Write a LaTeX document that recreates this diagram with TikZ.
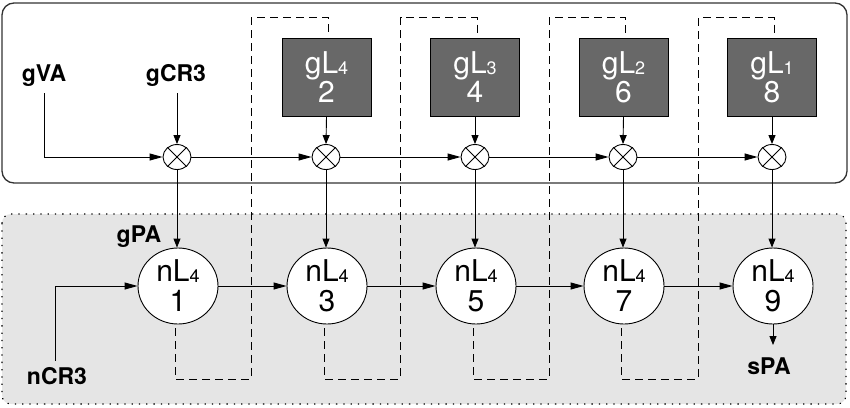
\documentclass[tikz,border=0pt]{standalone}
\usepackage{fontspec}
\setmainfont{TeX Gyre Heros}
\usetikzlibrary{arrows.meta,shapes.geometric,calc}
\newcommand\sbs[1]{\raisebox{-1pt}{\fontsize{18}{18}\selectfont #1}}
\definecolor{boxgray}{RGB}{104,104,104}
\definecolor{panelgray}{RGB}{229,229,229}
\definecolor{framegray}{RGB}{50,50,50}
\tikzset{
 lbl/.style={font=\fontsize{23}{25}\selectfont\bfseries, inner sep=0pt, anchor=base},
 nlnode/.style={ellipse, draw, fill=white, line width=0.9pt, minimum width=80pt, minimum height=76pt, inner sep=-16pt, align=center, font=\fontsize{30}{30}\selectfont},
 glbox/.style={rectangle, draw=black, fill=boxgray, line width=0.9pt, minimum width=89pt, minimum height=78pt, inner sep=0pt, align=center, text=white, font=\fontsize{30}{26}\selectfont},
 mult/.style={ellipse, draw, fill=white, line width=0.9pt, minimum width=28pt, minimum height=25pt, inner sep=0pt},
 conn/.style={line width=0.9pt},
 harrow/.style={conn, -{Triangle[length=13pt,width=7pt]}},
 varrow/.style={conn, -{Triangle[length=9pt,width=7pt]}},
 loopline/.style={line width=1pt, dash pattern=on 8pt off 5pt},
 panel/.style={fill=panelgray, draw=black, line width=1.1pt, dash pattern=on 1.3pt off 6pt, rounded corners=9pt},
 frame/.style={draw=framegray, line width=1.3pt, rounded corners=12pt},
}
\begin{document}
\begin{tikzpicture}[x=1pt,y=-1pt]
\useasboundingbox (0,0) rectangle (850,407);
% frames
\draw[panel] (2,214) rectangle (846,404);
\draw[frame] (2,3) rectangle (847,183);
% labels
\node[lbl] (gva) at (44,81) {gVA};
\node[lbl] (gcr) at (176,81) {gCR3};
\node[lbl] (gpa) at (139,242) {gPA};
\node[lbl] (ncr) at (57,384) {nCR3};
\node[lbl] (spa) at (769,374) {sPA};
% gL boxes
\node[glbox] (g2) at (326.5,77) {gL\sbs{4}\\2};
\node[glbox] (g4) at (475,77) {gL\sbs{3}\\4};
\node[glbox] (g6) at (623.5,77) {gL\sbs{2}\\6};
\node[glbox] (g8) at (772,77) {gL\sbs{1}\\8};
% multipliers
\node[mult] (m1) at (177,157) {};
\node[mult] (m2) at (326,157) {};
\node[mult] (m3) at (475,157) {};
\node[mult] (m4) at (623,157) {};
\node[mult] (m5) at (772,157) {};
\foreach \m in {m1,m2,m3,m4,m5}
  \draw[conn] (\m.45) -- (\m.225) (\m.135) -- (\m.-45);
% nL circles
\node[nlnode] (n1) at (178,286) {nL\sbs{4}\\1};
\node[nlnode] (n3) at (327,286) {nL\sbs{4}\\3};
\node[nlnode] (n5) at (476,286) {nL\sbs{4}\\5};
\node[nlnode] (n7) at (624,286) {nL\sbs{4}\\7};
\node[nlnode] (n9) at (773,286) {nL\sbs{4}\\9};
% dashed loops
\draw[loopline] ($(n1.south)+(-3,4)$) |- (251,379) |- ($(g2.north)+(2,-20)$) -- ($(g2.north)+(2,-3)$);
\draw[loopline] ($(n3.south)+(-3,4)$) |- (400.5,379) |- ($(g4.north)+(2,-20)$) -- ($(g4.north)+(2,-3)$);
\draw[loopline] ($(n5.south)+(-3,4)$) |- (549,379) |- ($(g6.north)+(2,-20)$) -- ($(g6.north)+(2,-3)$);
\draw[loopline] ($(n7.south)+(-3,4)$) |- (698,379) |- ($(g8.north)+(2,-20)$) -- ($(g8.north)+(2,-3)$);
% connectors top
\draw[harrow] ($(gva.south)+(0,7)$) |- (m1.west);
\draw[varrow] ($(m1.north |- gcr.south)+(0,7)$) -- (m1.north);
\draw[harrow] (m1.east) -- (m2.west);
\draw[harrow] (m2.east) -- (m3.west);
\draw[harrow] (m3.east) -- (m4.west);
\draw[harrow] (m4.east) -- (m5.west);
\draw[varrow] (g2.south) -- (m2.north);
\draw[varrow] (g4.south) -- (m3.north);
\draw[varrow] (g6.south) -- (m4.north);
\draw[varrow] (g8.south) -- (m5.north);
% down connectors
\draw[varrow] (m1.south) -- (m1.south |- n1.north);
\draw[varrow] (m2.south) -- (m2.south |- n3.north);
\draw[varrow] (m3.south) -- (m3.south |- n5.north);
\draw[varrow] (m4.south) -- (m4.south |- n7.north);
\draw[varrow] (m5.south) -- (m5.south |- n9.north);
% bottom chain
\draw[harrow] ($(ncr.north)+(-2,-6)$) |- (n1.west);
\draw[harrow] (n1.east) -- (n3.west);
\draw[harrow] (n3.east) -- (n5.west);
\draw[harrow] (n5.east) -- (n7.west);
\draw[harrow] (n7.east) -- (n9.west);
\draw[varrow] (n9.south) -- ($(n9.south |- spa.north)+(0,-12)$);
\end{tikzpicture}
\end{document}
